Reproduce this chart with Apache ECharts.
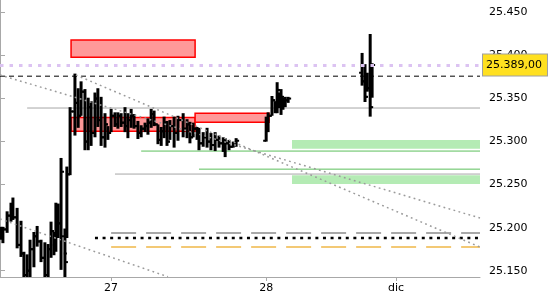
<!DOCTYPE html>
<html>
<head>
<meta charset="utf-8">
<script src="https://cdn.jsdelivr.net/npm/echarts@6/dist/echarts.min.js"></script>
<style>html,body{margin:0;padding:0;background:#fff}#c{width:550px;height:300px}</style>
</head>
<body>
<div id="c"></div>
<script>
// ---- data (x = 30-minute slot index, y = index points) ----
const barSlot  = [0.3,0.9,2.2,3.4,4.0,5.3,6.5,7.4,8.4,9.3,10.5,11.5,12.7,13.9,14.9,15.8,16.7,17.3,18.0,18.9,20.1,20.7,21.7,23.2,24.2,25.1,26.3,27.3,28.2,29.4,30.3,31.3,32.5,33.4,34.4,35.6,36.5,37.5,38.7,39.6,40.6,41.5,42.7,43.7,44.9,45.8,46.8,47.7,48.9,49.9,50.8,51.7,52.6,53.9,55.1,56.7,57.9,58.8,59.8,61.0,61.6,62.9,64.1,65.3,66.6,67.8,69.1,69.7,70.9,72.2,73.1,82.4,83.0,84.2,85.2,85.8,86.4,87.0,87.6,88.3,89.2,112.1,113.0,113.7,114.6,115.2];
const barOpen  = [25196,25190,25198,25214,25222,25212,25180,25170,25145,25150,25175,25190,25184,25165,25145,25175,25196,25180,25215,25205,25190,25170,25262,25335,25345,25330,25358,25300,25340,25310,25350,25325,25305,25320,25310,25330,25320,25330,25322,25318,25325,25330,25318,25310,25315,25318,25322,25332,25320,25302,25312,25322,25300,25318,25310,25325,25315,25320,25305,25315,25308,25298,25305,25300,25296,25302,25298,25292,25298,25294,25298,25301,25325,25330,25348,25340,25360,25345,25352,25342,25348,25380,25370,25352,25362,25340];
const barHigh  = [25201,25201,25219,25229,25235,25223,25208,25172,25169,25186,25195,25202,25186,25183,25181,25207,25195,25229,25228,25281,25199,25271,25340,25379,25362,25370,25361,25351,25347,25357,25362,25352,25333,25318,25338,25334,25334,25333,25340,25333,25338,25332,25324,25319,25322,25327,25338,25336,25320,25317,25329,25324,25325,25329,25330,25333,25326,25323,25322,25317,25316,25311,25316,25310,25311,25307,25305,25304,25302,25300,25304,25329,25334,25353,25347,25369,25357,25361,25351,25352,25352,25403,25390,25380,25425,25391];
const barLow   = [25186,25182,25194,25207,25209,25176,25166,25139,25139,25139,25154,25178,25160,25139,25139,25165,25168,25172,25188,25151,25139,25188,25261,25307,25316,25330,25290,25290,25295,25305,25317,25295,25293,25302,25311,25317,25315,25317,25311,25304,25316,25315,25303,25305,25311,25308,25316,25318,25297,25295,25304,25295,25302,25293,25301,25305,25304,25298,25305,25302,25290,25294,25293,25290,25289,25293,25288,25282,25290,25293,25294,25300,25311,25330,25333,25333,25339,25331,25337,25340,25345,25365,25346,25358,25329,25351];
const barClose = [25190,25198,25214,25222,25212,25180,25170,25145,25150,25175,25190,25184,25165,25145,25175,25196,25180,25215,25205,25265,25160,25262,25335,25345,25330,25358,25300,25340,25310,25350,25325,25305,25320,25310,25330,25320,25330,25322,25318,25325,25330,25318,25310,25315,25318,25322,25332,25320,25302,25312,25322,25300,25318,25310,25325,25315,25320,25305,25315,25308,25298,25305,25300,25296,25302,25298,25292,25298,25294,25298,25301,25325,25330,25348,25340,25360,25345,25352,25342,25348,25350,25370,25352,25362,25340,25389];

const xTickSlots  = [34.4, 82.4, 122.6];
const xTickLabels = ['27', '28', 'dic'];
const yTicks = [25150, 25200, 25250, 25300, 25350, 25400, 25450];
const xMin = 0, xMax = 148.6;
const yMin = 25142.7, yMax = 25464.5;

const lastPrice  = 25389;
const dashedLevel = 25376;
const grayLevelStart = [8.4, 35.6];
const grayLevelValue = [25339, 25262.3];
const greenLevelStart = [43.7, 61.6];
const greenLevelValue = [25289, 25268];
const pivotStart = 34.4, pivotDotStart = 29.4;
const pivotUpper = 25193.8, pivotMid = 25188, pivotLower = 25177.5;

const redZoneX1 = [22.0, 22.0, 60.4];
const redZoneX2 = [60.4, 60.4, 83.3];
const redZoneLo = [25398, 25312, 25322.5];
const redZoneHi = [25418, 25328, 25333];
const greenZoneX1 = [90.4, 90.4];
const greenZoneLo = [25291.7, 25250.7];
const greenZoneHi = [25301.8, 25261];

const trendA = [[0, 25377.4], [148.6, 25211.2]];
const trendB = [[23.5, 25377.4], [148.6, 25177.5]];
const trendC = [[0, 25210.1], [52, 25143]];

// ---- chart ----
const FONT = 'DejaVu Sans';
const fmtThousands = v => {
  const s = Math.round(v).toString();
  return s.slice(0, s.length - 3) + '.' + s.slice(-3);
};
const fmtPrice = v => fmtThousands(v) + ',' + (Math.round((v % 1) * 100)).toString().padStart(2, '0');

const bars = barSlot.map((s, i) => [s, barOpen[i], barHigh[i], barLow[i], barClose[i]]);

function hLine(x1, y, color, width, type, z) {
  return {
    type: 'line', data: [[x1, y], [xMax, y]], symbol: 'none', silent: true,
    lineStyle: {color: color, width: width, type: type}, z: z, animation: false
  };
}
function segLine(pts, color, width, type, z) {
  return {
    type: 'line', data: pts, symbol: 'none', silent: true,
    lineStyle: {color: color, width: width, type: type}, z: z, animation: false
  };
}

const series = [];
// zones
series.push({
  type: 'line', data: [], silent: true, z: 1,
  markArea: {
    silent: true,
    data: redZoneX1.map((x1, i) => [
      {xAxis: x1, yAxis: redZoneHi[i], itemStyle: {color: '#ff9999', borderColor: '#ff0000', borderWidth: 1.5}},
      {xAxis: redZoneX2[i], yAxis: redZoneLo[i]}
    ]).concat(greenZoneX1.map((x1, i) => [
      {xAxis: x1, yAxis: greenZoneHi[i], itemStyle: {color: '#b4ebb4', borderWidth: 0}},
      {xAxis: xMax, yAxis: greenZoneLo[i]}
    ]))
  }
});
// horizontal levels
grayLevelStart.forEach((x, i) => series.push(hLine(x, grayLevelValue[i], '#a6a6a6', 1, 'solid', 2)));
greenLevelStart.forEach((x, i) => series.push(hLine(x, greenLevelValue[i], '#5cbf5c', 1, 'solid', 2)));
series.push(hLine(pivotStart, pivotUpper, '#8c8c8c', 1.5, [25, 10], 2));
series.push(hLine(pivotStart, pivotLower, '#f0b848', 1.5, [25, 10], 2));
series.push(hLine(pivotDotStart, pivotMid, '#000000', 2.5, [3, 4.6], 2));
series.push(hLine(xMin, dashedLevel, '#000000', 1, [5, 4], 2));
// OHLC bars
series.push({
  type: 'custom', data: bars, z: 3, clip: true, animation: false, silent: true,
  encode: {x: 0, y: [1, 2, 3, 4]},
  renderItem: function (params, api) {
    const x = api.value(0);
    const pH = api.coord([x, api.value(2)]);
    const pL = api.coord([x, api.value(3)]);
    const pO = api.coord([x, api.value(1)]);
    const pC = api.coord([x, api.value(4)]);
    const st = {stroke: '#000', lineWidth: 3};
    const tk = {stroke: '#000', lineWidth: 2};
    return {type: 'group', children: [
      {type: 'line', shape: {x1: pH[0], y1: pH[1], x2: pL[0], y2: pL[1]}, style: st},
      {type: 'line', shape: {x1: pO[0] - 3, y1: pO[1], x2: pO[0], y2: pO[1]}, style: tk},
      {type: 'line', shape: {x1: pC[0], y1: pC[1], x2: pC[0] + 3, y2: pC[1]}, style: tk}
    ]};
  }
});
// trend lines
series.push(segLine(trendA, '#9a9a9a', 1.5, [1.8, 3.4], 4));
series.push(segLine(trendB, '#9a9a9a', 1.5, [1.8, 3.4], 4));
series.push(segLine(trendC, '#9a9a9a', 1.5, [1.8, 3.4], 4));
// last price line + label
series.push({
  type: 'line', data: [], silent: true, z: 10, zlevel: 1,
  markLine: {
    silent: true, symbol: ['none', 'none'], animation: false,
    lineStyle: {color: '#dcc3f2', width: 3, type: [3.5, 6]},
    label: {
      show: true, position: 'end', distance: 3,
      formatter: () => fmtPrice(lastPrice),
      color: '#000', fontFamily: FONT, fontSize: 11, lineHeight: 13,
      backgroundColor: '#ffe020', borderColor: '#a0a0a0', borderWidth: 1,
      padding: [5, 5, 3, 3]
    },
    data: [{yAxis: lastPrice}]
  }
});

const chart = echarts.init(document.getElementById('c'), null, {renderer: 'canvas'});
chart.setOption({
  animation: false,
  backgroundColor: '#ffffff',
  grid: {left: 0, right: 70, top: 0, bottom: 23, containLabel: false},
  xAxis: {
    type: 'value', min: xMin, max: xMax,
    axisLine: {show: true, lineStyle: {color: '#a8a8a8', width: 1}},
    splitLine: {show: false},
    axisTick: {show: true, customValues: xTickSlots, length: 4, lineStyle: {color: '#a8a8a8'}},
    axisLabel: {
      customValues: xTickSlots, margin: 6,
      formatter: v => { const i = xTickSlots.findIndex(s => Math.abs(s - v) < 1e-6); return i >= 0 ? xTickLabels[i] : ''; },
      color: '#000', fontFamily: FONT, fontSize: 11
    }
  },
  yAxis: {
    type: 'value', position: 'right', min: yMin, max: yMax,
    axisLine: {show: true, lineStyle: {color: '#a8a8a8', width: 1}},
    splitLine: {show: false},
    axisTick: {show: true, customValues: yTicks, length: 5, lineStyle: {color: '#a8a8a8'}},
    axisLabel: {customValues: yTicks, margin: 9, formatter: fmtThousands, color: '#000', fontFamily: FONT, fontSize: 11}
  },
  series: series
});
</script>
</body>
</html>
